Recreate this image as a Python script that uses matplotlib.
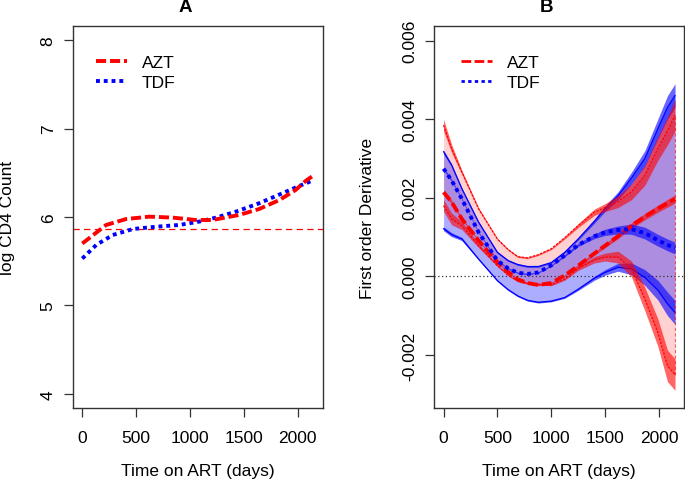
import numpy as np
import matplotlib
matplotlib.use("Agg")
import matplotlib.pyplot as plt

plt.rcParams["font.family"] = ["Liberation Sans", "DejaVu Sans"]
plt.rcParams["axes.unicode_minus"] = False

# Panel A: fitted log CD4 count curves
azt_days = [0, 222, 407, 624, 840, 1056, 1210, 1457, 1642, 1828, 1981, 2077, 2140]
azt_cd4 = [5.70, 5.91, 5.977, 6.004, 5.993, 5.966, 5.966, 6.023, 6.09, 6.19, 6.305, 6.41, 6.463]
tdf_days = [0, 130, 284, 470, 685, 902, 1087, 1241, 1426, 1642, 1858, 2000, 2150]
tdf_cd4 = [5.53, 5.684, 5.797, 5.864, 5.89, 5.91, 5.948, 5.993, 6.06, 6.155, 6.268, 6.343, 6.418]
ref_cd4 = 5.864

# Panel B: first order derivative with bootstrap bands (values in 1e-3)
deriv_days = [0, 75, 170, 325, 500, 600, 690, 780, 880, 1000, 1125, 1250, 1400, 1500,
              1620, 1745, 1870, 1990, 2080, 2150]
azt_mid = [2.14, 1.89, 1.46, 0.91, 0.36, 0.11, -0.08, -0.17, -0.22, -0.17, 0.02, 0.27,
           0.58, 0.78, 1.02, 1.29, 1.52, 1.72, 1.86, 1.97]
azt_hi = [3.85, 3.25, 2.65, 1.72, 0.95, 0.68, 0.50, 0.47, 0.55, 0.70, 0.98, 1.29,
          1.63, 1.75, 1.90, 2.15, 2.57, 3.25, 3.70, 4.10]
azt_lo = [1.80, 1.46, 1.29, 0.78, 0.27, 0.03, -0.12, -0.18, -0.20, -0.22, -0.07, 0.20,
          0.42, 0.49, 0.49, 0.19, -0.58, -1.43, -2.28, -2.50]
tdf_mid = [2.74, 2.44, 1.97, 1.12, 0.40, 0.20, 0.09, 0.06, 0.10, 0.28, 0.53, 0.80,
           1.02, 1.12, 1.18, 1.20, 1.10, 0.92, 0.80, 0.72]
tdf_hi = [3.17, 2.83, 2.23, 1.38, 0.61, 0.40, 0.30, 0.25, 0.25, 0.35, 0.61, 0.95,
          1.40, 1.72, 2.05, 2.50, 3.00, 3.75, 4.30, 4.60]
tdf_lo = [1.21, 1.06, 0.95, 0.44, -0.11, -0.34, -0.50, -0.61, -0.66, -0.63, -0.54, -0.33,
          -0.05, 0.10, 0.23, 0.19, -0.03, -0.35, -0.70, -0.92]

# spread of the bootstrap jitter around each line (half width, 1e-3)
azt_mid_jit = [0.06, 0.05, 0.03, 0.02, 0.02, 0.02, 0.02, 0.02, 0.02, 0.02, 0.02, 0.03,
               0.04, 0.05, 0.06, 0.07, 0.08, 0.09, 0.10, 0.10]
azt_hi_jit = [0.15, 0.10, 0.05, 0.03, 0.02, 0.02, 0.02, 0.02, 0.02, 0.02, 0.03, 0.05,
              0.08, 0.10, 0.15, 0.20, 0.25, 0.30, 0.35, 0.40]
azt_lo_jit = [0.15, 0.15, 0.10, 0.05, 0.02, 0.02, 0.02, 0.02, 0.02, 0.02, 0.03, 0.05,
              0.08, 0.10, 0.15, 0.20, 0.30, 0.35, 0.40, 0.40]
tdf_mid_jit = [0.04, 0.03, 0.02, 0.02, 0.02, 0.02, 0.02, 0.02, 0.02, 0.02, 0.03, 0.04,
               0.06, 0.08, 0.10, 0.13, 0.15, 0.15, 0.15, 0.15]
tdf_hi_jit = [0.05, 0.03, 0.02, 0.02, 0.02, 0.02, 0.02, 0.02, 0.02, 0.02, 0.02, 0.03,
              0.05, 0.07, 0.10, 0.15, 0.20, 0.25, 0.30, 0.30]
tdf_lo_jit = [0.05, 0.05, 0.04, 0.02, 0.02, 0.02, 0.02, 0.02, 0.02, 0.02, 0.02, 0.03,
              0.05, 0.07, 0.10, 0.15, 0.20, 0.25, 0.30, 0.30]

RED = "#FF0000"
BLUE = "#0000FF"
FS = 12.5


def style_axes(ax):
    for sp in ax.spines.values():
        sp.set_color("#333333")
        sp.set_linewidth(1.0)
    ax.tick_params(axis="both", direction="out", length=6.5, width=0.9,
                   color="#333333", labelsize=FS)
    ax.tick_params(axis="x", pad=9)
    ax.tick_params(axis="y", pad=6, labelrotation=90)
    for lab in ax.get_yticklabels():
        lab.set_va("center")


fig = plt.figure(figsize=(6.85, 4.81), dpi=100)
ax_a = fig.add_axes([73 / 685, 1 - 409 / 481, 250 / 685, 382 / 481])
ax_b = fig.add_axes([434.3 / 685, 1 - 409 / 481, 250 / 685, 382 / 481])

# ---- Panel A
ax_a.axhline(ref_cd4, color=RED, lw=0.9, ls=(0, (5, 3.5)), zorder=1)
ax_a.plot(azt_days, azt_cd4, color=RED, lw=2.8, ls=(0, (2.6, 1.0)),
          solid_capstyle="butt", label="AZT", zorder=3)
ax_a.plot(tdf_days, tdf_cd4, color=BLUE, lw=2.8, ls=(0, (1.0, 1.0)),
          dash_capstyle="butt", label="TDF", zorder=2)
ax_a.set_xlim(-86, 2236)
ax_a.set_ylim(3.84, 8.16)
ax_a.set_xticks([0, 500, 1000, 1500, 2000])
ax_a.set_yticks([4, 5, 6, 7, 8])
style_axes(ax_a)
ax_a.set_xlabel("Time on ART (days)", fontsize=FS)
ax_a.set_ylabel("log CD4 Count", fontsize=FS)
ax_a.xaxis.set_label_coords(0.5, -0.144)
ax_a.yaxis.set_label_coords(-0.232, 0.5)
ax_a.text(0.448, 1.052, "A", transform=ax_a.transAxes, ha="center", va="center",
          fontsize=13.5, fontweight="bold")
ax_a.legend(loc="upper left", bbox_to_anchor=(0.09, 0.924), frameon=False,
            fontsize=FS, handlelength=1.8, handletextpad=0.85, labelspacing=0.25,
            borderpad=0, borderaxespad=0)

# ---- Panel B
d = np.array(deriv_days)
s = 1e-3
a_mid, a_hi, a_lo = np.array(azt_mid) * s, np.array(azt_hi) * s, np.array(azt_lo) * s
t_mid, t_hi, t_lo = np.array(tdf_mid) * s, np.array(tdf_hi) * s, np.array(tdf_lo) * s

ax_b.fill_between(d, a_lo, a_hi, color=RED, alpha=0.18, lw=0, zorder=1)
ax_b.fill_between(d, t_lo, t_hi, color=BLUE, alpha=0.32, lw=0, zorder=2)
ax_b.axhline(0, color="#333333", lw=0.9, ls=(0, (1, 2)), zorder=3)

for y, jit, col, z in [(a_hi, azt_hi_jit, RED, 5), (a_lo, azt_lo_jit, RED, 5),
                       (t_hi, tdf_hi_jit, BLUE, 4), (t_lo, tdf_lo_jit, BLUE, 4),
                       (a_mid, azt_mid_jit, RED, 6), (t_mid, tdf_mid_jit, BLUE, 6)]:
    j = np.array(jit) * s
    ax_b.fill_between(d, y - j, y + j, color=col, alpha=0.6, lw=0, zorder=z)

ax_b.plot(d, a_hi, color=RED, lw=0.9, ls=(0, (2, 1)), zorder=5)
ax_b.plot(d, a_lo, color=RED, lw=0.9, ls=(0, (2, 1)), zorder=5)
ax_b.plot(d, t_hi, color=BLUE, lw=0.9, zorder=4)
ax_b.plot(d, t_lo, color=BLUE, lw=0.9, zorder=4)
ax_b.plot([d[-1], d[-1]], [a_lo[-1], a_hi[-1]], color=RED, lw=0.8, ls=(0, (3, 2)),
          alpha=0.6, zorder=5)
ax_b.plot(d, a_mid, color=RED, lw=2.8, ls=(0, (2.6, 1.0)), zorder=7)
ax_b.plot(d, t_mid, color=BLUE, lw=2.8, ls=(0, (1.0, 1.0)), zorder=7)

ax_b.plot([], [], color=RED, lw=2.0, ls=(0, (3.5, 1.2)), label="AZT")
ax_b.plot([], [], color=BLUE, lw=2.0, ls=(0, (1.2, 1.2)), label="TDF")

ax_b.set_xlim(-86, 2236)
ax_b.set_ylim(-0.00335, 0.00637)
ax_b.set_xticks([0, 500, 1000, 1500, 2000])
ax_b.set_yticks([-0.002, 0.0, 0.002, 0.004, 0.006])
ax_b.set_yticklabels(["-0.002", "0.000", "0.002", "0.004", "0.006"])
style_axes(ax_b)
ax_b.set_xlabel("Time on ART (days)", fontsize=FS)
ax_b.set_ylabel("First order Derivative", fontsize=FS)
ax_b.xaxis.set_label_coords(0.5, -0.144)
ax_b.yaxis.set_label_coords(-0.237, 0.5)
ax_b.text(0.447, 1.052, "B", transform=ax_b.transAxes, ha="center", va="center",
          fontsize=13.5, fontweight="bold")
handles, labels = ax_b.get_legend_handles_labels()
ax_b.legend(handles[-2:], labels[-2:], loc="upper left", bbox_to_anchor=(0.105, 0.924),
            frameon=False, fontsize=FS, handlelength=1.8, handletextpad=0.85,
            labelspacing=0.25, borderpad=0, borderaxespad=0)

fig.savefig("out.png", dpi=100)
